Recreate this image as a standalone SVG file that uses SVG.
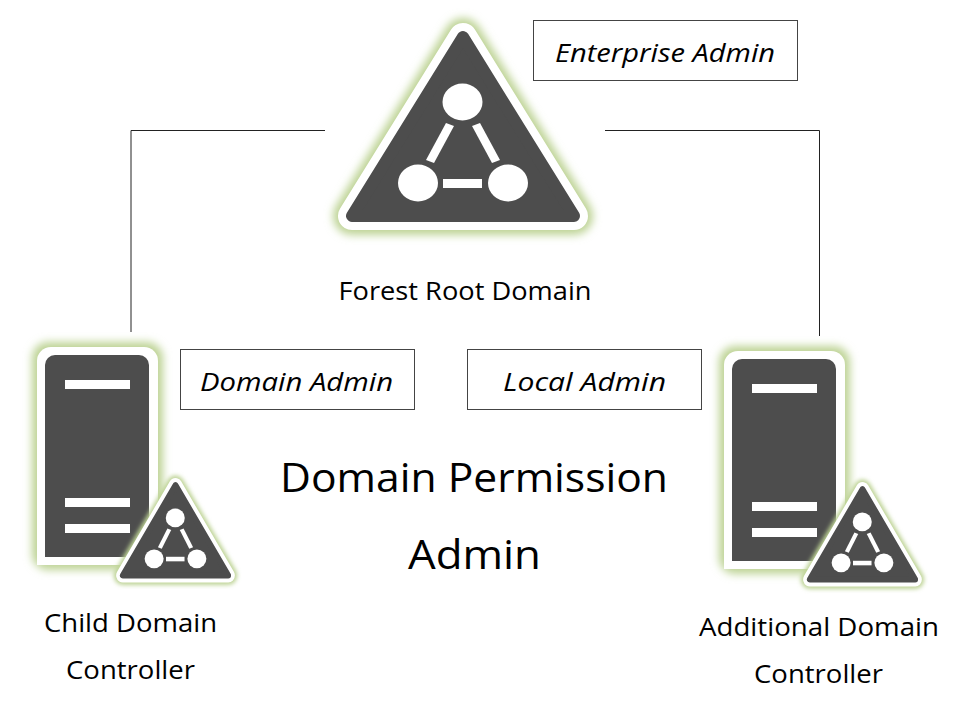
<svg xmlns="http://www.w3.org/2000/svg" width="969" height="715" viewBox="0 0 969 715">
<style>
text{font-family:"Open Sans","Noto Sans",sans-serif;fill:#000;text-anchor:middle}
.lab{font-size:25px}
.big{font-size:41px}
.it{font-size:26px;font-style:italic}
.box{fill:#fff;stroke:#444;stroke-width:1}
.con{fill:none;stroke:#222;stroke-width:1}
.d{fill:#4d4d4d}
.w{fill:#fff}
.g{fill:#bdd394;filter:url(#glow)}
.tg{fill:#bdd394;stroke:#bdd394;stroke-width:38;stroke-linejoin:round;filter:url(#glow)}
.tw{fill:#fff;stroke:#fff;stroke-width:28;stroke-linejoin:round}
.td{fill:#4d4d4d;stroke:#4d4d4d;stroke-width:12;stroke-linejoin:round}
</style>
<defs>
<filter id="glow" x="-20%" y="-20%" width="140%" height="140%"><feGaussianBlur stdDeviation="4.500"/></filter>
<path id="tp" d="M463 37 L352 216 L574 216Z"/>
<g id="tri">
<use href="#tp" class="tg"/>
<use href="#tp" class="tw"/>
<use href="#tp" class="td"/>
<ellipse class="w" cx="462.500" cy="102" rx="20" ry="18.500"/>
<ellipse class="w" cx="418" cy="183" rx="20" ry="18.500"/>
<ellipse class="w" cx="508" cy="183" rx="20" ry="18.500"/>
<path class="w" d="M446 123 L454 126 L434 163 L426 160Z"/>
<path class="w" d="M472 126 L480 123 L500 160 L492 163Z"/>
<rect class="w" x="443" y="179" width="39" height="9"/>
</g>
<g id="srv">
<rect class="g" x="32" y="342" width="131" height="228" rx="16"/>
<path class="w" d="M37 565 V361 a14 14 0 0 1 14 -14 H144 a14 14 0 0 1 14 14 V565Z"/>
<path class="d" d="M45 557 V365 a10 10 0 0 1 10 -10 H139 a10 10 0 0 1 10 10 V557Z"/>
<rect class="w" x="65" y="380" width="65" height="9"/>
<rect class="w" x="65" y="498" width="65" height="9"/>
<rect class="w" x="65" y="524" width="65" height="9"/>
</g>
</defs>
<rect width="969" height="715" fill="#fff"/>
<g id="connectors">
<path class="con" d="M325 130.500 H131 V332"/>
<path class="con" d="M605 130.500 H819.500 V336"/>
</g>
<g id="forest-root">
<use href="#tri"/>
<text class="lab" x="465" y="300" textLength="253" lengthAdjust="spacingAndGlyphs">Forest Root Domain</text>
</g>
<g id="child-dc">
<use href="#srv"/>
<use href="#tri" transform="translate(175.500 478) scale(.475 .505) translate(-463 -23)"/>
<text class="lab" x="130.500" y="632" textLength="173" lengthAdjust="spacingAndGlyphs">Child Domain</text>
<text class="lab" x="130.500" y="679" textLength="129" lengthAdjust="spacingAndGlyphs">Controller</text>
</g>
<g id="additional-dc">
<use href="#srv" x="687" y="4"/>
<use href="#tri" transform="translate(862.500 482) scale(.475 .505) translate(-463 -23)"/>
<text class="lab" x="819" y="636" textLength="240" lengthAdjust="spacingAndGlyphs">Additional Domain</text>
<text class="lab" x="818.500" y="683" textLength="129" lengthAdjust="spacingAndGlyphs">Controller</text>
</g>
<g id="enterprise-admin">
<rect class="box" x="533.500" y="20.500" width="264" height="60"/>
<text class="it" x="665" y="62" textLength="220" lengthAdjust="spacingAndGlyphs">Enterprise Admin</text>
</g>
<g id="domain-admin">
<rect class="box" x="180.500" y="349.500" width="234" height="60"/>
<text class="it" x="296.500" y="391" textLength="193" lengthAdjust="spacingAndGlyphs">Domain Admin</text>
</g>
<g id="local-admin">
<rect class="box" x="467.500" y="349.500" width="234" height="60"/>
<text class="it" x="584.500" y="391" textLength="163" lengthAdjust="spacingAndGlyphs">Local Admin</text>
</g>
<g id="title">
<text class="big" x="474" y="492" textLength="388" lengthAdjust="spacingAndGlyphs">Domain Permission</text>
<text class="big" x="474.500" y="569" textLength="133" lengthAdjust="spacingAndGlyphs">Admin</text>
</g>
</svg>
